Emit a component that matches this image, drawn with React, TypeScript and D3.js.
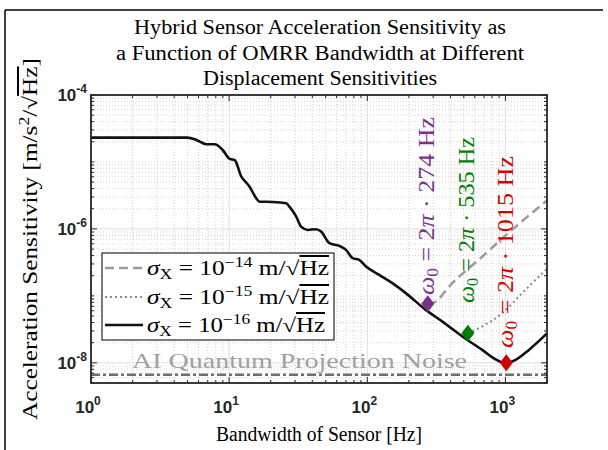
import React from "react";
import * as d3 from "d3";

const titleLines = [
  "Hybrid Sensor Acceleration Sensitivity as",
  "a Function of OMRR Bandwidth at Different",
  "Displacement Sensitivities",
];
const titleWidths = [372, 408, 234];
const xTicks = [1, 10, 100, 1000];
const xTickExp = ["0", "1", "2", "3"];
const yTicks = [1e-4, 1e-6, 1e-8];
const yTickExp = ["-4", "-6", "-8"];

// sigma_x = 1e-16 (solid black)
const freqSolid = [1, 5.0, 5.8, 6.85, 7.86, 8.98, 10.1, 10.96, 12.25, 13.3, 14.06, 15.7, 16.6, 20.7, 25.9, 27.3, 30.6, 33.2, 37.1, 42.6, 46.3, 53.2, 62.8, 70.2, 78.3, 87.5, 97.9, 122, 152, 190, 265, 350, 488, 680, 849, 1003, 1186, 1479, 2000];
const valSolid = [2.31e-5, 2.31e-5, 2.13e-5, 1.84e-5, 1.84e-5, 1.51e-5, 1.11e-5, 1.07e-5, 6.04e-6, 4.91e-6, 4.28e-6, 2.87e-6, 2.55e-6, 2.53e-6, 2.42e-6, 2.15e-6, 1.53e-6, 1.08e-6, 9.66e-7, 9.9e-7, 9.12e-7, 6.12e-7, 5.58e-7, 4.86e-7, 3.66e-7, 3.45e-7, 2.74e-7, 2.06e-7, 1.55e-7, 1.10e-7, 6.18e-8, 4.13e-8, 2.47e-8, 1.56e-8, 1.13e-8, 9.9e-9, 1.11e-8, 1.56e-8, 2.75e-8];
// sigma_x = 1e-14 (dashed)
const freqDashed = [274, 313, 391, 680, 1186, 2000];
const valDashed = [7.6e-8, 8.22e-8, 1.38e-7, 3.86e-7, 1.08e-6, 2.65e-6];
// sigma_x = 1e-15 (dotted)
const freqDotted = [535, 644, 948, 1321, 2000];
const valDotted = [2.77e-8, 3.3e-8, 5.52e-8, 1.10e-7, 2.55e-7];

const markerFreq = [274, 535, 1015];
const markerVal = [7.6e-8, 2.77e-8, 1.0e-8];
const markerColor = ["#7E2F8E", "#008000", "#D40000"];
const markerLabel = ["274", "535", "1015"];

const noiseLevel = 6.62e-9;
const legendExp = ["−14", "−15", "−16"];

const W = 608, H = 450;
const m = { left: 91, right: 547, top: 95, bottom: 383 };
const serif = "'Liberation Serif', 'Times New Roman', serif";
const sans = "'Liberation Sans', Arial, Helvetica, sans-serif";
const axisColor = "#262626";

export default function App() {
  const x = d3.scaleLog().domain([1, 2000]).range([m.left, m.right]);
  const y = d3.scaleLog().domain([5e-9, 1e-4]).range([m.bottom, m.top]);
  const line = d3
    .line<[number, number]>()
    .x((d) => x(d[0]))
    .y((d) => y(d[1]))
    .curve(d3.curveMonotoneX);

  const xMinor: number[] = [];
  for (let e = 0; e <= 3; e++)
    for (let k = 2; k <= 9; k++) {
      const v = k * Math.pow(10, e);
      if (v <= 2000) xMinor.push(v);
    }
  const yMinor: number[] = [];
  for (let e = -9; e <= -5; e++)
    for (let k = 1; k <= 9; k++) {
      const v = k * Math.pow(10, e);
      if (v >= 5e-9 && v <= 1e-4 && !yTicks.some((t) => Math.abs(t - v) / t < 1e-6)) yMinor.push(v);
    }

  const solid = freqSolid.map((f, i) => [f, valSolid[i]] as [number, number]);
  const dashed = freqDashed.map((f, i) => [f, valDashed[i]] as [number, number]);
  const dotted = freqDotted.map((f, i) => [f, valDotted[i]] as [number, number]);

  const annX = [434, 474, 513];
  const annY = [295, 303, 348];
  const annLen = [178, 166, 192];

  const legendY = [268, 297, 325];
  const legendLen = [182, 182, 178];

  return (
    <svg width={W} height={H} style={{ position: "absolute", left: 0, top: 0, background: "#fff" }}>
      <rect x={0} y={0} width={W} height={H} fill="#fff" />
      {/* figure frame */}
      <line x1={5} y1={10} x2={603} y2={10} stroke="#000" strokeWidth={1.5} />
      <line x1={5} y1={10} x2={5} y2={H} stroke="#000" strokeWidth={1.5} />

      {/* title */}
      {titleLines.map((t, i) => (
        <text key={i} x={320} y={34 + i * 25.5} textAnchor="middle" fontFamily={serif} fontSize={20} fill="#000" textLength={titleWidths[i]} lengthAdjust="spacingAndGlyphs">
          {t}
        </text>
      ))}

      {/* minor grid */}
      <g stroke="#c8c8c8" strokeWidth={0.8} strokeDasharray="1,2">
        {xMinor.map((v, i) => (
          <line key={"xm" + i} x1={x(v)} x2={x(v)} y1={m.top} y2={m.bottom} />
        ))}
        {yMinor.map((v, i) => (
          <line key={"ym" + i} x1={m.left} x2={m.right} y1={y(v)} y2={y(v)} />
        ))}
      </g>
      {/* major grid */}
      <g stroke="#dedede" strokeWidth={1}>
        {xTicks.map((v, i) => (
          <line key={"xg" + i} x1={x(v)} x2={x(v)} y1={m.top} y2={m.bottom} />
        ))}
        {yTicks.map((v, i) => (
          <line key={"yg" + i} x1={m.left} x2={m.right} y1={y(v)} y2={y(v)} />
        ))}
      </g>

      {/* noise level */}
      <line x1={m.left} x2={m.right} y1={y(noiseLevel)} y2={y(noiseLevel)} stroke="#6e6e6e" strokeWidth={2.5} strokeDasharray="9,3,3,3" />
      <text x={132} y={368} fontFamily={serif} fontSize={22} fill="#a0a0a0" textLength={335} lengthAdjust="spacingAndGlyphs">
        AI Quantum Projection Noise
      </text>

      {/* curves */}
      <path d={line(dashed) || ""} fill="none" stroke="#9a9a9a" strokeWidth={2.5} strokeDasharray="9,5" />
      <path d={line(dotted) || ""} fill="none" stroke="#8a8a8a" strokeWidth={2} strokeDasharray="2,3" />
      <path d={line(solid) || ""} fill="none" stroke="#111" strokeWidth={2.6} strokeLinejoin="round" />

      {/* markers */}
      {markerFreq.map((f, i) => {
        const cx = x(f), cy = y(markerVal[i]);
        return (
          <path key={"mk" + i} d={`M${cx},${cy - 8.5}L${cx + 6.5},${cy}L${cx},${cy + 8.5}L${cx - 6.5},${cy}Z`} fill={markerColor[i]} />
        );
      })}

      {/* annotations */}
      {markerFreq.map((f, i) => (
        <text key={"an" + i} transform={`translate(${annX[i]},${annY[i]}) rotate(-90)`} fontFamily={serif} fontSize={24} fill={markerColor[i]} textLength={annLen[i]} lengthAdjust="spacingAndGlyphs">
          <tspan fontStyle="italic">ω</tspan>
          <tspan fontSize={16} dy={4}>0</tspan>
          <tspan dy={-4}> = 2</tspan>
          <tspan fontStyle="italic">π</tspan>
          <tspan> · {markerLabel[i]} Hz</tspan>
        </text>
      ))}

      {/* axes box */}
      <rect x={m.left} y={m.top} width={m.right - m.left} height={m.bottom - m.top} fill="none" stroke={axisColor} strokeWidth={1.8} />
      {/* ticks */}
      <g stroke={axisColor} strokeWidth={1}>
        {xTicks.map((v, i) => (
          <g key={"xt" + i}>
            <line x1={x(v)} x2={x(v)} y1={m.bottom} y2={m.bottom - 6} />
            <line x1={x(v)} x2={x(v)} y1={m.top} y2={m.top + 6} />
          </g>
        ))}
        {xMinor.map((v, i) => (
          <g key={"xmt" + i}>
            <line x1={x(v)} x2={x(v)} y1={m.bottom} y2={m.bottom - 3} />
            <line x1={x(v)} x2={x(v)} y1={m.top} y2={m.top + 3} />
          </g>
        ))}
        {yTicks.map((v, i) => (
          <g key={"yt" + i}>
            <line x1={m.left} x2={m.left + 6} y1={y(v)} y2={y(v)} />
            <line x1={m.right} x2={m.right - 6} y1={y(v)} y2={y(v)} />
          </g>
        ))}
        {yMinor.map((v, i) => (
          <g key={"ymt" + i}>
            <line x1={m.left} x2={m.left + 3} y1={y(v)} y2={y(v)} />
            <line x1={m.right} x2={m.right - 3} y1={y(v)} y2={y(v)} />
          </g>
        ))}
      </g>

      {/* tick labels */}
      {xTicks.map((v, i) => (
        <text key={"xl" + i} x={x(v) - 3} y={413} textAnchor="middle" fontFamily={sans} fontWeight="bold" fontSize={17} fill={axisColor}>
          10<tspan fontSize={12} dy={-8}>{xTickExp[i]}</tspan>
        </text>
      ))}
      {yTicks.map((v, i) => (
        <text key={"yl" + i} x={87} y={y(v) + 6} textAnchor="end" fontFamily={sans} fontWeight="bold" fontSize={17} fill={axisColor}>
          10<tspan fontSize={12} dy={-8}>{yTickExp[i]}</tspan>
        </text>
      ))}

      {/* axis labels */}
      <text x={319} y={441} textAnchor="middle" fontFamily={serif} fontSize={20} fill="#000" textLength={206} lengthAdjust="spacingAndGlyphs">
        Bandwidth of Sensor [Hz]
      </text>
      <text transform={`translate(37,239) rotate(-90)`} textAnchor="middle" fontFamily={serif} fontSize={20} fill="#000" textLength={362} lengthAdjust="spacingAndGlyphs">
        Acceleration Sensitivity [m/s<tspan fontSize={14} dy={-8}>2</tspan>
        <tspan dy={8}>/√</tspan>
        <tspan textDecoration="overline">Hz</tspan>]
      </text>

      {/* legend */}
      <rect x={102} y={253} width={232} height={87} fill="#fff" stroke={axisColor} strokeWidth={1.2} />
      <line x1={105} x2={143} y1={legendY[0]} y2={legendY[0]} stroke="#9a9a9a" strokeWidth={2.5} strokeDasharray="9,5" />
      <line x1={105} x2={143} y1={legendY[1]} y2={legendY[1]} stroke="#8a8a8a" strokeWidth={2} strokeDasharray="2,3" />
      <line x1={105} x2={143} y1={legendY[2]} y2={legendY[2]} stroke="#111" strokeWidth={2.6} />
      {legendExp.map((e, i) => (
        <text key={"lg" + i} x={147} y={legendY[i] + 7} fontFamily={serif} fontSize={20} fill="#000" textLength={legendLen[i]} lengthAdjust="spacingAndGlyphs">
          <tspan fontStyle="italic">σ</tspan>
          <tspan fontSize={14} dy={4}>X</tspan>
          <tspan dy={-4}> = 10</tspan>
          <tspan fontSize={14} dy={-8}>{e}</tspan>
          <tspan dy={8}> m/√</tspan>
          <tspan textDecoration="overline">Hz</tspan>
        </text>
      ))}
    </svg>
  );
}
